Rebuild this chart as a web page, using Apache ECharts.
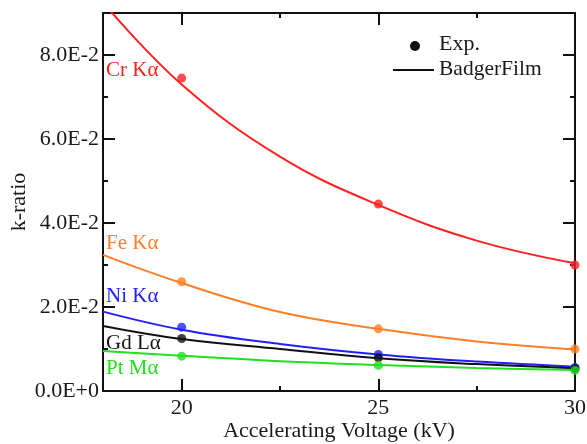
<!DOCTYPE html>
<html>
<head>
<meta charset="utf-8">
<script src="https://cdn.jsdelivr.net/npm/echarts@6/dist/echarts.min.js"></script>
<style>
html,body{margin:0;padding:0;background:#fff;}
#c{width:587px;height:444px;}
</style>
</head>
<body>
<div id="c"></div>
<script>
// ---- data ----
const expVoltages = [20, 25, 30];
const crExp = [0.0745, 0.0445, 0.0300];
const feExp = [0.0260, 0.0148, 0.0100];
const niExp = [0.0152, 0.0087, 0.0056];
const gdExp = [0.0125, 0.0079, 0.0053];
const ptExp = [0.0083, 0.0061, 0.0049];

const fitVoltages = [18, 20, 22.5, 25, 27.5, 30];
const crFit = [0.0925, 0.0730, 0.0558, 0.0443, 0.0358, 0.0304];
const feFit = [0.0324, 0.0257, 0.0188, 0.0148, 0.0118, 0.0099];
const niFit = [0.0189, 0.0146, 0.0112, 0.0087, 0.0070, 0.0058];
const gdFit = [0.0155, 0.0124, 0.0100, 0.0078, 0.0064, 0.0054];
const ptFit = [0.0095, 0.0084, 0.0071, 0.0062, 0.0055, 0.0050];

const xMajor = [20, 25, 30];
const xMinor = [22.5, 27.5];
const yMajor = [0, 0.02, 0.04, 0.06, 0.08];
const yMinor = [0.01, 0.03, 0.05, 0.07];

const lineNames = ['Cr Kα', 'Fe Kα', 'Ni Kα', 'Gd Lα', 'Pt Mα'];
const colors = ['#ff2020', '#ff7f27', '#2020ff', '#111111', '#20e020'];
const fits = [crFit, feFit, niFit, gdFit, ptFit];
const exps = [crExp, feExp, niExp, gdExp, ptExp];

const FONT = '"Liberation Serif", "DejaVu Serif", serif';
const TXT = '#1a1a1a';
const AX = '#111';

function zip(xs, ys) { return xs.map((x, i) => [x, ys[i]]); }

function xAx(pos, vals, len, lab, line) {
  return {
    type: 'value', min: 18, max: 30, position: pos,
    axisLine: { show: line, onZero: false, lineStyle: { color: AX, width: 2 } },
    axisTick: { show: true, inside: true, length: len, customValues: vals, lineStyle: { color: AX, width: 2 } },
    axisLabel: lab ? { show: true, customValues: vals, fontFamily: FONT, fontSize: 22, color: TXT, margin: 6 } : { show: false },
    splitLine: { show: false }
  };
}
function yAx(pos, vals, len, lab, line) {
  return {
    type: 'value', min: 0, max: 0.09, position: pos,
    axisLine: { show: line, onZero: false, lineStyle: { color: AX, width: 2 } },
    axisTick: { show: true, inside: true, length: len, customValues: vals, lineStyle: { color: AX, width: 2 } },
    axisLabel: lab ? {
      show: true, customValues: vals, fontFamily: FONT, fontSize: 22, color: TXT, margin: 4,
      formatter: v => Number(v).toExponential(1).toUpperCase()
    } : { show: false },
    splitLine: { show: false }
  };
}

const xAxes = [
  Object.assign(xAx('bottom', xMajor, 12, true, true), {
    name: 'Accelerating Voltage (kV)', nameLocation: 'middle', nameGap: 29, nameMoveOverlap: false,
    nameTextStyle: { fontFamily: FONT, fontSize: 22, color: TXT }
  }),
  xAx('bottom', xMinor, 5, false, false),
  xAx('top', xMajor, 12, false, true),
  xAx('top', xMinor, 5, false, false)
];
const yAxes = [
  Object.assign(yAx('left', yMajor, 12, true, true), {
    name: 'k-ratio', nameLocation: 'middle', nameGap: 73, nameMoveOverlap: false,
    nameTextStyle: { fontFamily: FONT, fontSize: 22, color: TXT }
  }),
  yAx('left', yMinor, 5, false, false),
  yAx('right', yMajor, 12, false, true),
  yAx('right', yMinor, 5, false, false)
];

const series = [];
fits.forEach((f, i) => {
  series.push({
    name: lineNames[i] + ' fit', type: 'line', xAxisIndex: 0, yAxisIndex: 0,
    data: zip(fitVoltages, f), smooth: 0.4,
    showSymbol: false, clip: true, z: 2,
    lineStyle: { color: colors[i], width: 2 }, itemStyle: { color: colors[i] }
  });
});
exps.forEach((e, i) => {
  series.push({
    name: lineNames[i] + ' exp', type: 'scatter', xAxisIndex: 0, yAxisIndex: 0,
    data: zip(expVoltages, e), symbol: 'circle', symbolSize: 9, clip: false, z: 3,
    itemStyle: { color: colors[i] }
  });
});

const labelTops = [72, 245, 298, 345, 370];
const graphics = lineNames.map((n, i) => ({
  type: 'text', left: 106, top: labelTops[i] - 12,
  style: { text: n, fill: colors[i], font: '21px ' + FONT }
}));
graphics.push(
  { type: 'circle', shape: { cx: 415, cy: 46, r: 5 }, style: { fill: '#111' } },
  { type: 'text', left: 439, top: 33, style: { text: 'Exp.', fill: TXT, font: '22px ' + FONT } },
  { type: 'line', shape: { x1: 393, y1: 70, x2: 434, y2: 70 }, style: { stroke: '#111', lineWidth: 2 } },
  { type: 'text', left: 439, top: 58, style: { text: 'BadgerFilm', fill: TXT, font: '21.5px ' + FONT } }
);

const chart = echarts.init(document.getElementById('c'), null, { renderer: 'canvas' });
chart.setOption({
  animation: false,
  backgroundColor: '#fff',
  grid: { left: 103, right: 12, top: 13, bottom: 53, containLabel: false, outerBoundsMode: 'none' },
  xAxis: xAxes,
  yAxis: yAxes,
  series: series,
  graphic: graphics
});
</script>
</body>
</html>
